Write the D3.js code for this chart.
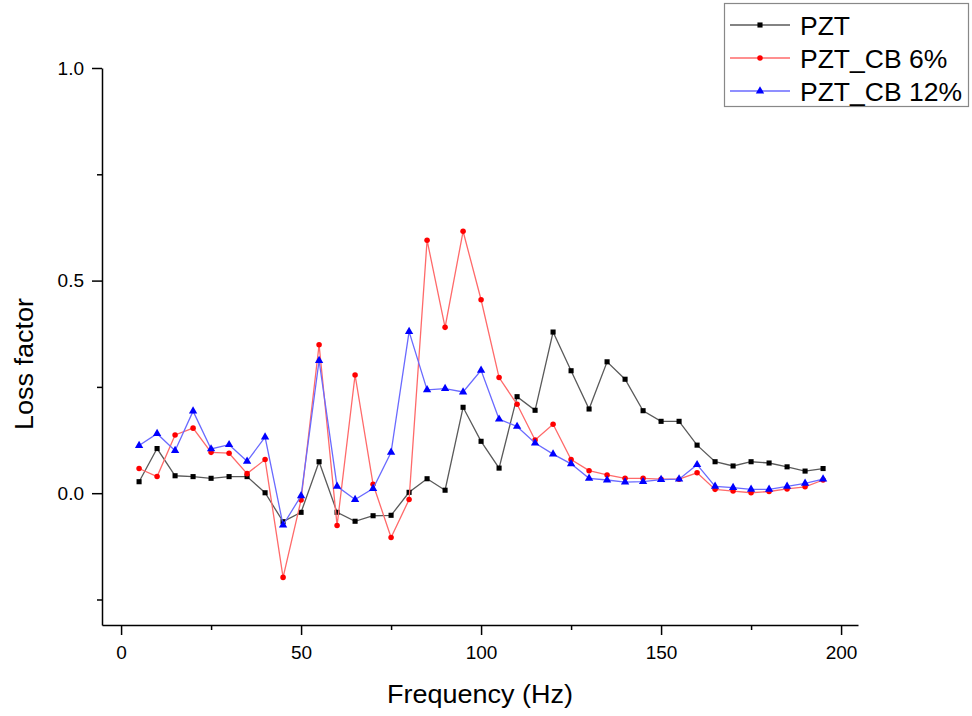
<!DOCTYPE html>
<html>
<head>
<meta charset="utf-8">
<script src="https://cdn.jsdelivr.net/npm/d3@7"></script>
<style>
  body { margin: 0; background: #fff; }
  svg { display: block; font-family: "Liberation Sans", Arial, sans-serif; }
</style>
</head>
<body>
<div class="chart"></div>
<script>
// data
const freq = d3.range(5, 200, 5);
const pzt = [0.027, 0.105, 0.041, 0.039, 0.035, 0.039, 0.039, 0.001, -0.067, -0.045,
             0.074, -0.045, -0.066, -0.053, -0.052, 0.002, 0.034, 0.007, 0.202, 0.122,
             0.059, 0.227, 0.195, 0.379, 0.288, 0.198, 0.309, 0.268, 0.194, 0.169,
             0.169, 0.113, 0.074, 0.064, 0.074, 0.071, 0.062, 0.052, 0.058];
const pztCb6 = [0.058, 0.039, 0.137, 0.153, 0.096, 0.094, 0.046, 0.079, -0.198, -0.016,
                0.349, -0.076, 0.278, 0.021, -0.104, -0.015, 0.595, 0.390, 0.616, 0.455,
                0.272, 0.209, 0.125, 0.162, 0.079, 0.053, 0.043, 0.035, 0.035, 0.033,
                0.033, 0.048, 0.009, 0.005, 0.001, 0.004, 0.010, 0.015, 0.031];
const pztCb12 = [0.112, 0.140, 0.100, 0.193, 0.104, 0.114, 0.075, 0.132, -0.075, -0.006,
                 0.312, 0.016, -0.015, 0.011, 0.096, 0.380, 0.243, 0.246, 0.238, 0.289,
                 0.174, 0.157, 0.118, 0.092, 0.069, 0.035, 0.031, 0.026, 0.027, 0.032,
                 0.033, 0.067, 0.016, 0.013, 0.009, 0.009, 0.016, 0.023, 0.033];
const seriesNames = ['PZT', 'PZT_CB 6%', 'PZT_CB 12%'];
const xTicks = [0, 50, 100, 150, 200];
const xMinor = [25, 75, 125, 175];
const yTicks = [0, 0.5, 1.0];
const yMinor = [-0.25, 0.25, 0.75];

const width = 972, height = 716;
const series = [
  { name: seriesNames[0], values: pzt, line: '#5a5a5a', dot: '#000', symbol: d3.symbolSquare, size: 26 },
  { name: seriesNames[1], values: pztCb6, line: '#ff6a6a', dot: '#ff0000', symbol: d3.symbolCircle, size: 24 },
  { name: seriesNames[2], values: pztCb12, line: '#6a6aff', dot: '#0000ff', symbol: d3.symbolTriangle, size: 30 }
];

const svg = d3.select('.chart').append('svg')
  .attr('width', width).attr('height', height);

const x = d3.scaleLinear().domain([-5.3, 204.7]).range([102, 858]);
const y = d3.scaleLinear().domain([-0.31, 1.0]).range([625, 68]);

// axes: major + minor ticks
svg.append('g')
  .attr('transform', 'translate(0,625)')
  .call(d3.axisBottom(x).tickValues(xTicks).tickSize(10).tickSizeOuter(0).tickPadding(11))
  .call(g => g.selectAll('text').attr('font-size', 19).attr('fill', '#000'))
  .call(g => g.select('.domain').attr('stroke-width', 1.5));
svg.append('g')
  .attr('transform', 'translate(0,625)')
  .call(d3.axisBottom(x).tickValues(xMinor).tickSize(5).tickFormat(''))
  .call(g => g.select('.domain').remove());

svg.append('g')
  .attr('transform', 'translate(102,0)')
  .call(d3.axisLeft(y).tickValues(yTicks).tickSize(10).tickSizeOuter(0).tickPadding(8).tickFormat(d3.format('.1f')))
  .call(g => g.selectAll('text').attr('font-size', 19).attr('fill', '#000'))
  .call(g => g.select('.domain').attr('stroke-width', 1.5));
svg.append('g')
  .attr('transform', 'translate(102,0)')
  .call(d3.axisLeft(y).tickValues(yMinor).tickSize(5).tickFormat(''))
  .call(g => g.select('.domain').remove());

svg.selectAll('.tick line').attr('stroke-width', 1.5);

// axis titles
svg.append('text')
  .attr('x', 480).attr('y', 703)
  .attr('text-anchor', 'middle')
  .attr('font-size', 26)
  .attr('textLength', 186)
  .attr('lengthAdjust', 'spacingAndGlyphs')
  .text('Frequency (Hz)');
svg.append('text')
  .attr('transform', 'translate(33,364) rotate(-90)')
  .attr('text-anchor', 'middle')
  .attr('font-size', 25)
  .attr('textLength', 132)
  .attr('lengthAdjust', 'spacingAndGlyphs')
  .text('Loss factor');

// lines and markers
const line = d3.line()
  .x((d, i) => x(freq[i]))
  .y(d => y(d));

series.forEach(s => {
  svg.append('path')
    .datum(s.values)
    .attr('fill', 'none')
    .attr('stroke', s.line)
    .attr('stroke-width', 1.3)
    .attr('d', line);
  svg.append('g').selectAll('path')
    .data(s.values)
    .join('path')
    .attr('transform', (d, i) => `translate(${x(freq[i])},${y(d)})`)
    .attr('d', d3.symbol(s.symbol, s.size))
    .attr('fill', s.dot);
});

// legend
const legend = svg.append('g');
legend.append('rect')
  .attr('x', 724.5).attr('y', 3.5)
  .attr('width', 244).attr('height', 103)
  .attr('fill', '#fff').attr('stroke', '#888').attr('stroke-width', 1.2);
series.forEach((s, i) => {
  const ly = 25 + i * 33;
  legend.append('line')
    .attr('x1', 730).attr('x2', 790).attr('y1', ly).attr('y2', ly)
    .attr('stroke', s.line).attr('stroke-width', 1.3);
  legend.append('path')
    .attr('transform', `translate(760,${ly})`)
    .attr('d', d3.symbol(s.symbol, s.size))
    .attr('fill', s.dot);
  legend.append('text')
    .attr('x', 800).attr('y', ly + 9.5)
    .attr('font-size', 26.5)
    .text(s.name);
});
</script>
</body>
</html>
